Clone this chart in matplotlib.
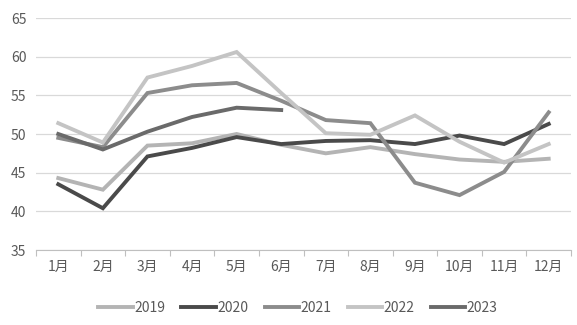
import matplotlib
matplotlib.use("Agg")
import matplotlib.pyplot as plt

plt.rcParams['font.family'] = ['Noto Sans CJK SC', 'DejaVu Sans']

months = ["1月", "2月", "3月", "4月", "5月", "6月", "7月", "8月", "9月", "10月", "11月", "12月"]
years = ["2019", "2020", "2021", "2022", "2023"]
v2019 = [44.3, 42.8, 48.5, 48.8, 50.0, 48.6, 47.5, 48.3, 47.4, 46.7, 46.4, 46.8]
v2020 = [43.5, 40.4, 47.1, 48.2, 49.6, 48.7, 49.1, 49.2, 48.7, 49.8, 48.7, 51.3]
v2021 = [49.5, 48.3, 55.3, 56.3, 56.6, 54.3, 51.8, 51.4, 43.7, 42.1, 45.1, 52.8]
v2022 = [51.4, 48.9, 57.3, 58.8, 60.6, 55.3, 50.1, 49.9, 52.4, 49.0, 46.3, 48.7]
v2023 = [50.0, 48.0, 50.3, 52.2, 53.4, 53.1]
series = [v2019, v2020, v2021, v2022, v2023]
colors = ["#b4b4b4", "#4a4a4a", "#8c8c8c", "#c4c4c4", "#6a6a6a"]

fig = plt.figure(figsize=(5.77, 3.25), dpi=100)
ax = fig.add_axes([36/577, 1-250/325, (571-36)/577, (250-18)/325])

for name, vals, c in zip(years, series, colors):
    ax.plot(range(len(vals)), vals, color=c, lw=2.8, label=name, solid_joinstyle='miter')

ax.set_xlim(-0.5, 11.5)
ax.set_ylim(35, 65)
ax.set_yticks(range(35, 66, 5))
ax.set_xticks(range(12))
ax.set_xticklabels(months)
ax.set_xticks([i - 0.5 for i in range(13)], minor=True)
ax.tick_params(axis='x', which='major', length=0, pad=7, labelsize=10, colors='#595959')
ax.tick_params(axis='x', which='minor', length=4, color='#bfbfbf', width=0.8)
ax.tick_params(axis='y', length=0, pad=7, labelsize=10, colors='#595959')
ax.grid(axis='y', color='#d9d9d9', lw=0.9)
ax.set_axisbelow(True)
for s in ['left', 'right', 'top']:
    ax.spines[s].set_visible(False)
ax.spines['bottom'].set_color('#bfbfbf')
ax.spines['bottom'].set_linewidth(0.8)

leg = fig.legend(loc='center', bbox_to_anchor=(298/577, 1-308/325), ncol=5, frameon=False,
                 fontsize=10, handlelength=2.5, handletextpad=0.1, columnspacing=1.15)
for t in leg.get_texts():
    t.set_color('#595959')

fig.savefig("out.png", dpi=100)
